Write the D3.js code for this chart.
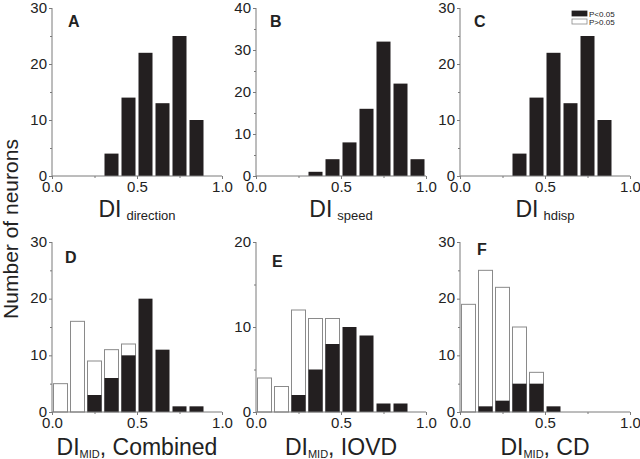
<!DOCTYPE html>
<html><head><meta charset="utf-8">
<script src="https://cdn.jsdelivr.net/npm/d3@7"></script>
<style>
body{margin:0;background:#fff;}
text{font-family:"Liberation Sans",Arial,sans-serif;}
</style></head>
<body>
<svg id="c" width="640" height="459"></svg>
<script>
// Data: bin starts (DI value), counts of significant (P<0.05) and total neurons
const binsTop = [0.3,0.4,0.5,0.6,0.7,0.8];
const binsB = [0.3,0.4,0.5,0.6,0.7,0.8,0.9];
const sigA = [4,14,22,13,25,10];
const sigB = [1,4,8,16,32,22,4];
const sigC = [4,14,22,13,25,10];
const binsBot = [0.0,0.1,0.2,0.3,0.4,0.5,0.6,0.7,0.8];
const sigD   = [0,0,3,6,10,20,11,1,1];
const totalD = [5,16,9,11,12,20,11,1,1];
const sigE   = [0,0,2,5,8,10,9,1,1];
const totalE = [4,3,12,11,11,10,9,1,1];
const binsF = [0.0,0.1,0.2,0.3,0.4,0.5];
const sigF   = [0,1,2,5,5,1];
const totalF = [19,25,22,15,7,1];
const xTicks = [0.0,0.5,1.0];
const xTickLabels = ["0.0","0.5","1.0"];
const legendLabels = ["P<0.05","P>0.05"];

const panels = [
  {id:"A", x0:52, top:8, bottom:176, ymax:30, bins:binsTop, sig:sigA, total:sigA, label:"DI", sub:"direction", rest:"", lx:68, ly:27},
  {id:"B", x0:256, top:8, bottom:176, ymax:40, bins:binsB, sig:sigB, total:sigB, label:"DI", sub:"speed", rest:"", lx:270, ly:27},
  {id:"C", x0:460, top:8, bottom:176, ymax:30, bins:binsTop, sig:sigC, total:sigC, label:"DI", sub:"hdisp", rest:"", lx:474, ly:27},
  {id:"D", x0:52, top:242, bottom:412, ymax:30, bins:binsBot, sig:sigD, total:totalD, label:"DI", sub:"MID", rest:", Combined", lx:65, ly:263, low:true},
  {id:"E", x0:256, top:242, bottom:412, ymax:20, bins:binsBot, sig:sigE, total:totalE, label:"DI", sub:"MID", rest:", IOVD", lx:272, ly:267, low:true},
  {id:"F", x0:460, top:242, bottom:412, ymax:30, bins:binsF, sig:sigF, total:totalF, label:"DI", sub:"MID", rest:", CD", lx:477, ly:255, low:true}
];
const W = 170, binW = 0.1;
const svg = d3.select("#c");
const axisColor = "#7a7a7a";

panels.forEach(p=>{
  const x = d3.scaleLinear().domain([0,1]).range([p.x0, p.x0+W]);
  const y = d3.scaleLinear().domain([0,p.ymax]).range([p.bottom, p.top]);
  const g = svg.append("g");
  // white (total) bars
  g.selectAll("rect.tot").data(p.bins.map((b,i)=>({b, v:p.total[i], s:p.sig[i]})).filter(d=>d.v>d.s))
    .enter().append("rect")
    .attr("x", d=>x(d.b)+1.5).attr("width", d=>x(d.b+binW)-x(d.b)-3)
    .attr("y", d=>y(d.v)).attr("height", d=>y(0)-y(d.v))
    .attr("fill","#fff").attr("stroke","#8a8a8a").attr("stroke-width",1);
  // black (significant) bars
  g.selectAll("rect.sig").data(p.bins.map((b,i)=>({b, v:p.sig[i]})).filter(d=>d.v>0))
    .enter().append("rect")
    .attr("x", d=>x(d.b)+1.5).attr("width", d=>x(d.b+binW)-x(d.b)-3)
    .attr("y", d=>y(d.v)).attr("height", d=>y(0)-y(d.v))
    .attr("fill","#231f20");
  // axes
  const xa = g.append("g").attr("transform",`translate(0,${p.bottom})`)
    .call(d3.axisBottom(x).tickValues(xTicks).tickFormat((d,i)=>xTickLabels[i]).tickSize(3).tickPadding(1));
  g.append("g").attr("transform",`translate(0,${p.bottom})`)
    .call(d3.axisBottom(x).tickValues([0.25,0.75]).tickFormat("").tickSize(2))
    .call(a=>a.select(".domain").remove());
  const ya = g.append("g").attr("transform",`translate(${p.x0},0)`)
    .call(d3.axisLeft(y).ticks(p.ymax/10).tickSize(3).tickPadding(2));
  const minor = d3.range(5,p.ymax,10);
  g.append("g").attr("transform",`translate(${p.x0},0)`)
    .call(d3.axisLeft(y).tickValues(minor).tickFormat("").tickSize(2))
    .call(a=>a.select(".domain").remove());
  g.selectAll(".domain").attr("stroke",axisColor);
  g.selectAll(".tick line").attr("stroke",axisColor);
  g.selectAll(".tick text").attr("font-size",15).attr("fill","#222");
  ya.selectAll(".tick text").attr("dy","0.28em");
  xa.selectAll(".tick text").attr("dy","0.8em");
  xa.select(".domain").attr("d",`M${p.x0},0H${p.x0+W}`);
  ya.select(".domain").attr("d",`M0,${p.bottom}V${p.top}`);
  // panel letter
  g.append("text").attr("x",p.lx).attr("y",p.ly).attr("font-size",16).attr("font-weight","bold").attr("fill","#222").text(p.id);
  // x label
  const t = g.append("text").attr("x",p.x0+W/2).attr("y",p.low?455:217).attr("text-anchor","middle").attr("fill","#222").attr("font-size",23);
  t.append("tspan").text(p.label);
  if(p.low){
    t.append("tspan").attr("font-size",11).attr("dy",3).text(p.sub);
    t.append("tspan").attr("dy",-3).text(p.rest);
  } else {
    t.append("tspan").attr("font-size",13).attr("dx",5).attr("dy",3).text(p.sub);
  }
});

// y axis title
svg.append("text").attr("transform","translate(18,229) rotate(-90)").attr("text-anchor","middle")
  .attr("font-size",21).attr("fill","#222").text("Number of neurons");

// legend
const leg = svg.append("g");
legendLabels.forEach((l,i)=>{
  leg.append("rect").attr("x",572).attr("y",11+i*8).attr("width",15).attr("height",5)
    .attr("fill", i===0?"#231f20":"#fff").attr("stroke", i===0?"#231f20":"#8a8a8a").attr("stroke-width",0.8);
  leg.append("text").attr("x",589).attr("y",16.5+i*8).attr("font-size",8).attr("fill","#222").text(l);
});
</script>
</body></html>
